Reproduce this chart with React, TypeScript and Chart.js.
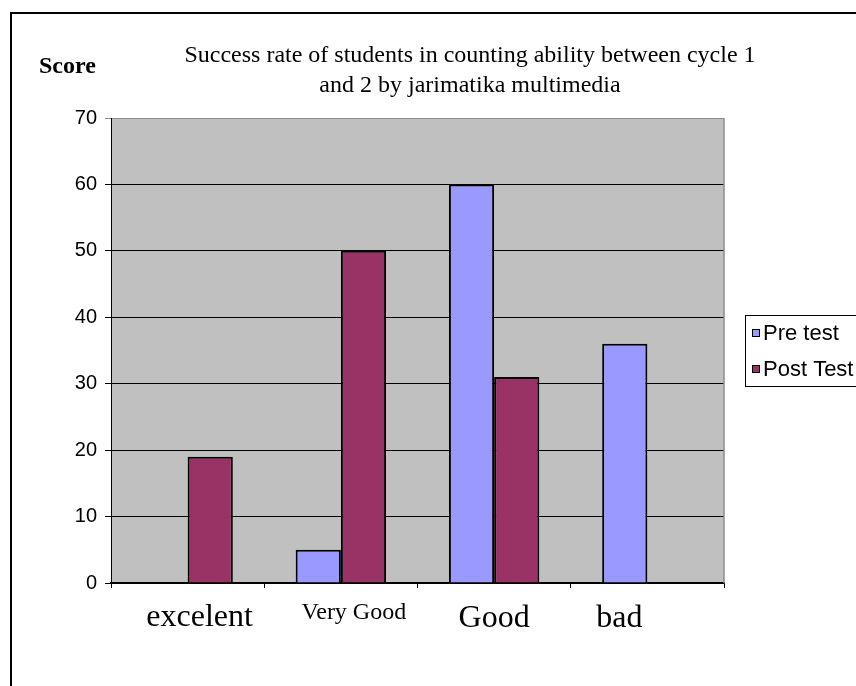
import React, { useEffect, useRef } from "react";
import { Chart, registerables } from "chart.js";

Chart.register(...registerables);

const categories = ["excelent", "Very Good", "Good", "bad"];
const preTest = [0, 5, 60, 36];
const postTest = [19, 50, 31, 0];
const seriesLabels = ["Pre test", "Post Test"];
const yTicks = [0, 10, 20, 30, 40, 50, 60, 70];
const titleLines = [
  "Success rate of students in counting ability between cycle 1",
  "and 2 by jarimatika multimedia",
];
const yAxisTitle = "Score";

const SERIF = '"Liberation Serif", "Times New Roman", serif';
const SANS = '"Liberation Sans", Arial, sans-serif';

// per-label style (text boxes in the original are placed by hand)
const LABEL_STYLE = [
  { size: 32, dx: 12, dy: 43 },
  { size: 24, dx: 13, dy: 36 },
  { size: 32, dx: 0, dy: 44 },
  { size: 32, dx: -28, dy: 44 },
];

const decorPlugin = {
  id: "decor",
  beforeDraw(chart: any) {
    const { ctx, chartArea } = chart;
    ctx.save();
    ctx.fillStyle = "#ffffff";
    ctx.fillRect(0, 0, chart.width, chart.height);
    ctx.fillStyle = "#C0C0C0";
    ctx.fillRect(
      chartArea.left,
      chartArea.top,
      chartArea.right - chartArea.left,
      chartArea.bottom - chartArea.top
    );
    ctx.restore();
  },
  afterDraw(chart: any) {
    const { ctx, chartArea } = chart;
    ctx.save();
    // outer frame (top and left)
    ctx.strokeStyle = "#000";
    ctx.lineWidth = 2;
    ctx.beginPath();
    ctx.moveTo(chart.width + 2, 13);
    ctx.lineTo(11, 13);
    ctx.lineTo(11, chart.height + 2);
    ctx.stroke();

    // plot right edge gray
    ctx.strokeStyle = "#8c8c8c";
    ctx.lineWidth = 1.5;
    ctx.beginPath();
    ctx.moveTo(chartArea.right, chartArea.top);
    ctx.lineTo(chartArea.right, chartArea.bottom);
    ctx.stroke();

    // category labels
    const xs = chart.scales.x;
    ctx.fillStyle = "#000";
    ctx.textAlign = "center";
    ctx.textBaseline = "alphabetic";
    chart.data.labels.forEach((lab: string, i: number) => {
      const st = LABEL_STYLE[i];
      ctx.font = `${st.size}px ${SERIF}`;
      ctx.fillText(lab, xs.getPixelForValue(i) + st.dx, chartArea.bottom + st.dy);
    });

    // Score
    ctx.font = `bold 24px ${SERIF}`;
    ctx.textAlign = "left";
    ctx.fillText(yAxisTitle, 39, 73);

    // title
    ctx.font = `24px ${SERIF}`;
    ctx.textAlign = "center";
    ctx.fillText(titleLines[0], 470, 62);
    ctx.fillText(titleLines[1], 470, 92);

    // legend
    const lx = 745;
    const ly = 315;
    ctx.fillStyle = "#fff";
    ctx.fillRect(lx, ly, 200, 71);
    ctx.strokeStyle = "#000";
    ctx.lineWidth = 1;
    ctx.strokeRect(lx + 0.5, ly + 0.5, 200, 71);
    ctx.font = `22px ${SANS}`;
    ctx.textAlign = "left";
    ctx.textBaseline = "middle";
    chart.data.datasets.forEach((ds: any, i: number) => {
      const cy = ly + 18 + i * 36;
      ctx.fillStyle = ds.backgroundColor;
      ctx.fillRect(752, cy - 4, 8, 8);
      ctx.strokeStyle = "#000";
      ctx.lineWidth = 1;
      ctx.strokeRect(752.5, cy - 3.5, 7, 7);
      ctx.fillStyle = "#000";
      ctx.fillText(ds.label, 763, cy + 1);
    });
    ctx.restore();
  },
};

export default function App() {
  const ref = useRef<HTMLCanvasElement>(null);
  useEffect(() => {
    if (!ref.current) return;
    const chart = new Chart(ref.current, {
      type: "bar",
      data: {
        labels: categories,
        datasets: [
          {
            label: seriesLabels[0],
            data: preTest,
            backgroundColor: "#9999FF",
            borderColor: "#000",
            borderWidth: 2,
            categoryPercentage: 0.59,
            barPercentage: 1,
          },
          {
            label: seriesLabels[1],
            data: postTest,
            backgroundColor: "#993366",
            borderColor: "#000",
            borderWidth: 2,
            categoryPercentage: 0.59,
            barPercentage: 1,
          },
        ],
      },
      options: {
        responsive: false,
        animation: false,
        layout: { padding: { left: 10, top: 118, right: 132, bottom: 0 } },
        plugins: {
          legend: { display: false },
          title: { display: false },
          tooltip: { enabled: false },
        },
        scales: {
          x: {
            afterFit: (s: any) => {
              s.height = 103;
            },
            grid: {
              display: true,
              drawOnChartArea: false,
              drawTicks: true,
              tickLength: 5,
              color: "#000",
            },
            border: { display: true, color: "#000", width: 1.5 },
            ticks: { display: false },
          },
          y: {
            min: 0,
            max: 70,
            afterFit: (s: any) => {
              s.width = 101;
            },
            afterBuildTicks: (s: any) => {
              s.ticks = yTicks.map((v) => ({ value: v }));
            },
            grid: {
              color: (c: any) =>
                c.tick && c.tick.value === 70 ? "#8c8c8c" : "#000",
              lineWidth: 1,
              tickLength: 6,
            },
            border: { display: true, color: "#000", width: 1 },
            ticks: {
              padding: 8,
              color: "#000",
              font: { family: SANS, size: 20 },
            },
          },
        },
      },
      plugins: [decorPlugin],
    });
    return () => chart.destroy();
  }, []);
  return (
    <div style={{ position: "absolute", left: 0, top: 0, width: 856, height: 686 }}>
      <canvas ref={ref} width={856} height={686} style={{ display: "block" }} />
    </div>
  );
}
